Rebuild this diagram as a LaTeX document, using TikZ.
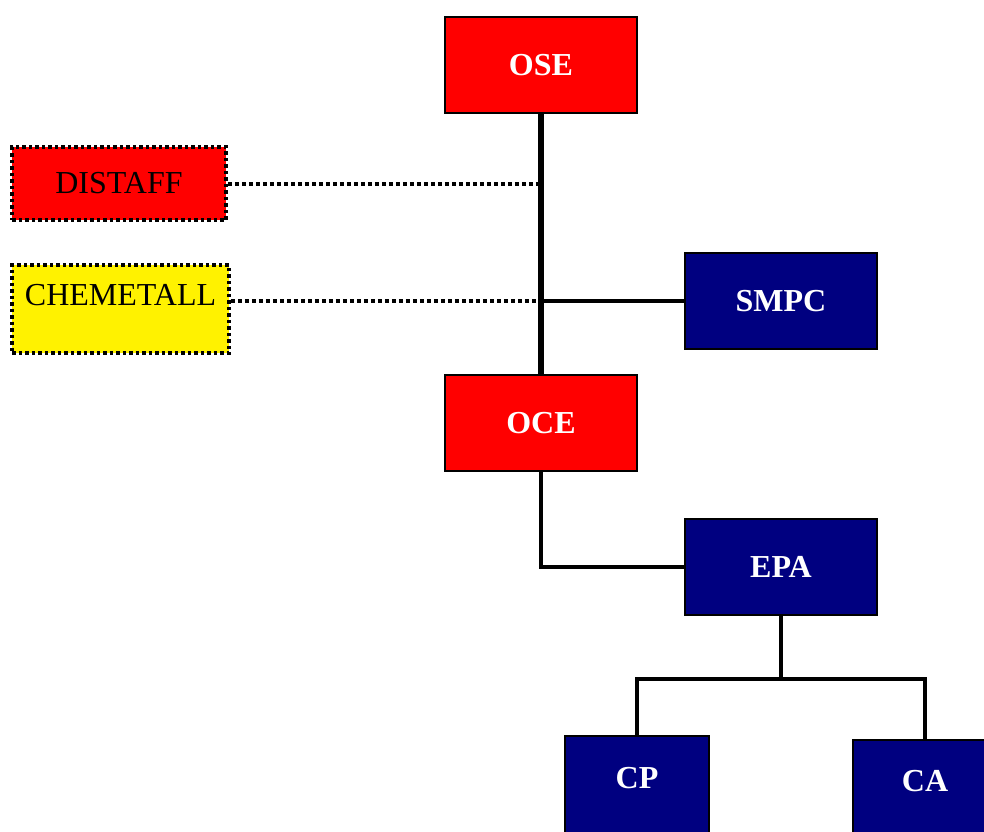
\documentclass[tikz,border=0pt]{standalone}
\usepackage{fontspec}
\setmainfont{Liberation Serif}
\usetikzlibrary{positioning}

\begin{document}
\begin{tikzpicture}[x=1pt,y=-1pt,
  every node/.style={draw,rectangle,line width=2pt,font=\fontsize{32}{38}\selectfont,
    minimum width=192pt,minimum height=96pt,inner sep=0pt},
  redbox/.style={fill=red,text=white,font=\fontsize{32}{38}\selectfont\bfseries},
  bluebox/.style={fill=navyblue,text=white,font=\fontsize{32}{38}\selectfont\bfseries},
  dotbox/.style={line width=3.5pt,dash pattern=on 3.5pt off 3pt},
  dotline/.style={line width=4pt,dash pattern=on 4pt off 3pt},
  trunk/.style={line width=6pt},
  branch/.style={line width=3.5pt}]
\definecolor{navyblue}{RGB}{0,0,128}
\clip (0,0) rectangle (984,831);

\node[redbox] (ose) at (541,65) {OSE};
\node[fill=red,dotbox,minimum width=214pt,minimum height=73pt] (distaff) at (119,183.5) {DISTAFF};
\node[fill=yellow,dotbox,minimum width=217pt,minimum height=88pt,text depth=28pt] (chemetall) at (120.5,309) {CHEMETALL};
\node[bluebox] (smpc) at (781,301) {SMPC};
\node[redbox] (oce) at (541,423) {OCE};
\node[bluebox] (epa) at (781,567) {EPA};
\node[bluebox,anchor=north,minimum width=144pt,minimum height=120pt,text depth=36pt] (cp) at (637,735) {CP};
\node[bluebox,anchor=north,minimum width=144pt,minimum height=120pt,text depth=38pt] (ca) at (925,739) {CA};
\coordinate (split) at (781,679);

\draw[trunk] (ose.south) -- (oce.north);
\draw[dotline] (distaff.east) -- (distaff -| ose);
\draw[dotline] (chemetall.east |- smpc) -- (smpc -| ose);
\draw[branch] (smpc -| ose) -- (smpc.west);
\draw[branch] (oce.south) |- (epa.west);
\draw[branch] (epa.south) -- (split);
\draw[branch] (cp.north) -- (cp.north |- split) -- (ca.north |- split) -- (ca.north);
\end{tikzpicture}
\end{document}
